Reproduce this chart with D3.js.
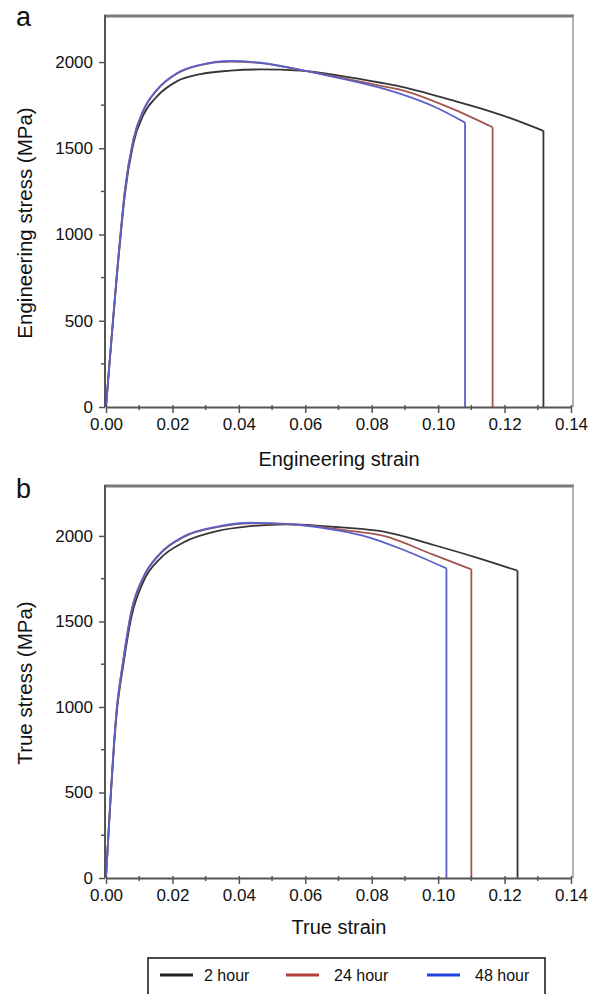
<!DOCTYPE html>
<html>
<head>
<meta charset="utf-8">
<script src="https://cdn.jsdelivr.net/npm/d3@7"></script>
<style>
  body { margin: 0; background: #fff; }
  svg { display: block; font-family: "Liberation Sans", Arial, sans-serif; }
</style>
</head>
<body>
<script>
// ---- data (strain, stress in MPa) ----
let xTicks = [0, 0.02, 0.04, 0.06, 0.08, 0.10, 0.12, 0.14];
let xMinor = [0.01, 0.03, 0.05, 0.07, 0.09, 0.11, 0.13];
let yTicks = [0, 500, 1000, 1500, 2000];
let yMinor = [250, 750, 1250, 1750];
let seriesNames = ['2 hour', '24 hour', '48 hour'];

// engineering stress-strain
let eng2h = [[0,0],[0.0042,950],[0.0057,1235],[0.0082,1525],[0.0113,1695],[0.0153,1800],[0.0213,1888],[0.0284,1930],[0.0374,1950],[0.0465,1957],[0.0585,1950],[0.0706,1920],[0.0827,1880],[0.0887,1858],[0.1038,1781],[0.1189,1694],[0.1317,1601]];
let eng24h = [[0,0],[0.0042,965],[0.0057,1255],[0.0082,1545],[0.0113,1720],[0.0153,1836],[0.0213,1932],[0.0284,1982],[0.0374,2002],[0.0465,1994],[0.0585,1955],[0.0706,1910],[0.0827,1862],[0.0887,1839],[0.1038,1733],[0.1164,1622]];
let eng48h = [[0,0],[0.0042,969],[0.0057,1259],[0.0082,1549],[0.0113,1723],[0.0153,1839],[0.0213,1935],[0.0284,1984],[0.0374,2006],[0.0465,1996],[0.0585,1955],[0.0706,1905],[0.0827,1850],[0.0887,1815],[0.0987,1742],[0.1081,1649]];

// true stress-strain
let true2h = [[0,0],[0.0032,960],[0.0052,1245],[0.0077,1530],[0.0113,1735],[0.0163,1868],[0.0233,1962],[0.0334,2028],[0.0434,2057],[0.0545,2068],[0.0585,2066],[0.0706,2050],[0.0836,2025],[0.0987,1947],[0.1138,1860],[0.1239,1797]];
let true24h = [[0,0],[0.0032,978],[0.0052,1270],[0.0077,1562],[0.0113,1758],[0.0163,1895],[0.0233,1993],[0.0334,2051],[0.0434,2074],[0.0545,2069],[0.0585,2065],[0.0706,2037],[0.0836,2000],[0.0987,1889],[0.110,1805]];
let true48h = [[0,0],[0.0032,982],[0.0052,1275],[0.0077,1567],[0.0113,1762],[0.0163,1898],[0.0233,1996],[0.0334,2054],[0.0434,2077],[0.0545,2070],[0.0585,2064],[0.0706,2030],[0.0786,1995],[0.0887,1925],[0.1025,1810]];

let lineColors = ['#363636', '#a2564f', '#5a60c8'];
let legendColors = ['#222222', '#b0403a', '#2040e0'];

let svg = d3.select('body').append('svg')
    .attr('width', 598)
    .attr('height', 994);

function drawPanel(p) {
    let x = d3.scaleLinear().domain([0, 0.14]).range([106, 571]);
    let y = d3.scaleLinear().domain([0, p.yMax]).range([p.y0, p.yTop]);
    let g = svg.append('g').attr('class', 'panel');

    // frame (top + right)
    g.append('line')
        .attr('x1', 104).attr('x2', 574)
        .attr('y1', p.yTop).attr('y2', p.yTop)
        .style('stroke', '#7a7a7a').style('stroke-width', 3);
    g.append('line')
        .attr('x1', 573).attr('x2', 573)
        .attr('y1', p.yTop).attr('y2', p.y0)
        .style('stroke', '#9a9a9a').style('stroke-width', 1.5);

    // curves
    let curve = d3.line()
        .x(function (d) { return x(d[0]); })
        .y(function (d) { return y(d[1]); })
        .curve(d3.curveMonotoneX);
    let drop = d3.line()
        .x(function (d) { return x(d[0]); })
        .y(function (d) { return y(d[1]); });
    for (let i = 0; i < p.series.length; i++) {
        let s = p.series[i];
        let last = s[s.length - 1];
        g.append('path')
            .attr('d', curve(s))
            .attr('fill', 'none')
            .style('stroke', lineColors[i])
            .style('stroke-width', 1.8);
        g.append('path')
            .attr('d', drop([last, [last[0], 0]]))
            .attr('fill', 'none')
            .style('stroke', lineColors[i])
            .style('stroke-width', 1.8);
    }

    // x axis
    let xAxis = d3.axisBottom(x)
        .tickValues(xTicks)
        .tickFormat(d3.format('.2f'))
        .tickSize(6)
        .tickSizeOuter(0)
        .tickPadding(5);
    let gx = g.append('g')
        .attr('transform', 'translate(0,' + p.y0 + ')')
        .call(xAxis);
    gx.selectAll('.tick line').attr('y1', -2);
    g.selectAll('.xminor')
        .data(xMinor)
        .enter()
        .append('line')
        .attr('x1', function (d) { return x(d); })
        .attr('x2', function (d) { return x(d); })
        .attr('y1', p.y0 - 2)
        .attr('y2', p.y0 + 3)
        .style('stroke', '#555').style('stroke-width', 1.5);

    // y axis
    let yAxis = d3.axisLeft(y)
        .tickValues(yTicks)
        .tickFormat(d3.format('d'))
        .tickSize(6)
        .tickSizeOuter(0)
        .tickPadding(6);
    let gy = g.append('g')
        .attr('transform', 'translate(105,0)')
        .call(yAxis);
    gy.select('.domain').attr('d', 'M0,' + (p.yTop - 1) + 'V' + p.y0);
    g.selectAll('.yminor')
        .data(yMinor)
        .enter()
        .append('line')
        .attr('x1', 101)
        .attr('x2', 106)
        .attr('y1', function (d) { return y(d); })
        .attr('y2', function (d) { return y(d); })
        .style('stroke', '#555').style('stroke-width', 1.5);

    [gx, gy].forEach(function (a) {
        a.select('.domain').style('stroke', '#555').style('stroke-width', 2);
        a.selectAll('.tick line').style('stroke', '#555').style('stroke-width', 1.5);
        a.selectAll('.tick text')
            .style('font-size', '17px')
            .style('fill', '#111')
            .style('font-family', '"Liberation Sans", Arial, sans-serif');
    });

    // titles
    g.append('text')
        .attr('x', 339)
        .attr('y', p.xTitleY)
        .attr('text-anchor', 'middle')
        .style('font-size', '20px')
        .style('fill', '#111')
        .text(p.xTitle);
    g.append('text')
        .attr('transform', 'translate(32,' + p.yTitleC + ') rotate(-90)')
        .attr('text-anchor', 'middle')
        .style('font-size', '20.5px')
        .style('fill', '#111')
        .text(p.yTitle);
    g.append('text')
        .attr('x', 16)
        .attr('y', p.letterY)
        .style('font-size', '27px')
        .style('fill', '#111')
        .text(p.letter);
}

drawPanel({
    y0: 407, yTop: 16, yMax: 2267,
    series: [eng2h, eng24h, eng48h],
    xTitle: 'Engineering strain', xTitleY: 466,
    yTitle: 'Engineering stress (MPa)', yTitleC: 223,
    letter: 'a', letterY: 26
});
drawPanel({
    y0: 878, yTop: 486, yMax: 2292,
    series: [true2h, true24h, true48h],
    xTitle: 'True strain', xTitleY: 934,
    yTitle: 'True stress (MPa)', yTitleC: 683,
    letter: 'b', letterY: 498
});

// legend
let legend = svg.append('g').attr('class', 'legend');
legend.append('rect')
    .attr('x', 148).attr('y', 958)
    .attr('width', 397).attr('height', 60)
    .attr('fill', '#fff')
    .style('stroke', '#111').style('stroke-width', 1.5);
let legendX = [160, 286, 427];
let legendItem = legend.selectAll('.legItem')
    .data(seriesNames)
    .enter()
    .append('g')
    .attr('class', 'legItem')
    .attr('transform', function (d, i) { return 'translate(' + legendX[i] + ',975)'; });
legendItem.append('line')
    .attr('x1', 0).attr('x2', 33)
    .attr('y1', 0).attr('y2', 0)
    .style('stroke', function (d, i) { return legendColors[i]; })
    .style('stroke-width', 3);
legendItem.append('text')
    .attr('x', function (d, i) { return i === 0 ? 44 : 48; })
    .attr('y', 6)
    .style('font-size', '16px')
    .style('fill', '#111')
    .text(function (d) { return d; });
</script>
</body>
</html>
